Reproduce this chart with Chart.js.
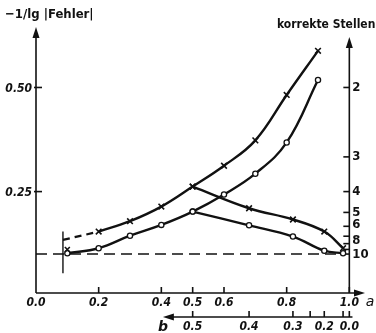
<!DOCTYPE html>
<html>
<head>
<meta charset="utf-8">
<script src="https://cdn.jsdelivr.net/npm/chart.js@4"></script>
<style>
  html, body { margin: 0; padding: 0; background: #fff; }
  #wrap { width: 376px; height: 333px; }
</style>
</head>
<body>
<div id="wrap"><canvas id="c" width="376" height="333"></canvas></div>
<script>
// Parameter a (bottom axis) for the rising curves
const aValues = [0.2, 0.3, 0.4, 0.5, 0.6, 0.7, 0.8, 0.9];
const crossRising = [0.154, 0.179, 0.214, 0.262, 0.312, 0.373, 0.482, 0.588];
const aCircle = [0.1, 0.2, 0.3, 0.4, 0.5, 0.6, 0.7, 0.8, 0.9];
const circleRising = [0.102, 0.114, 0.144, 0.170, 0.202, 0.243, 0.293, 0.368, 0.518];
// isolated cross at a = 0.1 and the dashed continuation towards the start line
const crossStart = { a: 0.1, v: 0.111 };
const dashedStart = [{ a: 0.086, v: 0.134 }, { a: 0.2, v: 0.154 }];
const startLine = { a: 0.086, from: 0.054, to: 0.154 };

// Parameter b (second bottom axis) for the falling curves
const bValues = [0.5, 0.4, 0.3, 0.2, 0.1];
const crossFalling = [0.262, 0.210, 0.183, 0.154, 0.114];
const circleFalling = [0.202, 0.169, 0.142, 0.108, 0.102];

// Axis ticks
const aTicks = [0.0, 0.2, 0.4, 0.5, 0.6, 0.8, 1.0];
const leftTicks = [0.25, 0.50];
const digitsTicks = [2, 3, 4, 5, 6, 7, 8, 9, 10];
const digitsLabels = [2, 3, 4, 5, 6, 8, 10];
const bTicks = [0.5, 0.4, 0.3, 0.25, 0.2, 0.1, 0.0];
const bLabels = [0.5, 0.4, 0.3, 0.2, 0.0];
const levelTen = 0.1;

// b scale is laid onto the a scale through a = 1 - 2 b^2
const aFromB = b => 1 - 2 * b * b;

const INK = '#111';
const numFont = "italic bold 12px 'DejaVu Sans Condensed', 'DejaVu Sans', sans-serif";
const rightFont = "bold 13px 'DejaVu Sans Condensed', 'DejaVu Sans', sans-serif";
const titleFont = "bold 12px 'DejaVu Sans Condensed', 'DejaVu Sans', sans-serif";
const leftTitleFont = "bold 13px 'DejaVu Sans Condensed', 'DejaVu Sans', sans-serif";

function arrow(ctx, x, y, dir) {
  ctx.save();
  ctx.translate(x, y);
  ctx.rotate(dir);
  ctx.beginPath();
  ctx.moveTo(0, 0);
  ctx.lineTo(-11, -3.5);
  ctx.lineTo(-11, 3.5);
  ctx.closePath();
  ctx.fillStyle = INK;
  ctx.fill();
  ctx.restore();
}

const axesPlugin = {
  id: 'axes',
  beforeDatasetsDraw(chart) {
    const { ctx, scales: { x, y } } = chart;
    const x0 = x.getPixelForValue(0);
    const x1 = x.getPixelForValue(1);
    const yBase = y.getPixelForValue(y.min);
    ctx.save();
    ctx.strokeStyle = INK;
    ctx.fillStyle = INK;
    ctx.lineWidth = 1.6;

    // left axis
    ctx.beginPath();
    ctx.moveTo(x0, yBase);
    ctx.lineTo(x0, 36);
    ctx.stroke();
    arrow(ctx, x0, 27, -Math.PI / 2);
    ctx.font = numFont;
    ctx.textAlign = 'right';
    ctx.textBaseline = 'middle';
    leftTicks.forEach(v => {
      const py = y.getPixelForValue(v);
      ctx.beginPath();
      ctx.moveTo(x0 - 2, py);
      ctx.lineTo(x0 + 6, py);
      ctx.stroke();
      ctx.fillText(v.toFixed(2), x0 - 4, py + 1);
    });

    // bottom a axis
    ctx.beginPath();
    ctx.moveTo(x0, yBase);
    ctx.lineTo(x.getPixelForValue(1.03), yBase);
    ctx.stroke();
    arrow(ctx, x.getPixelForValue(1.05), yBase, 0);
    ctx.textAlign = 'center';
    aTicks.forEach(v => {
      const px = x.getPixelForValue(v);
      if (v > 0) {
        ctx.beginPath();
        ctx.moveTo(px, yBase);
        ctx.lineTo(px, yBase - 6);
        ctx.stroke();
      }
      ctx.fillText(v.toFixed(1), px, yBase + 10);
    });
    ctx.font = "italic 14px 'DejaVu Sans', sans-serif";
    ctx.fillText('a', 370, yBase + 9);

    // right axis: correct digits
    ctx.beginPath();
    ctx.moveTo(x1, yBase);
    ctx.lineTo(x1, 46);
    ctx.stroke();
    arrow(ctx, x1, 37, -Math.PI / 2);
    digitsTicks.forEach(n => {
      const py = y.getPixelForValue(1 / n);
      ctx.beginPath();
      ctx.moveTo(x1 - 6, py);
      ctx.lineTo(x1, py);
      ctx.stroke();
    });
    ctx.font = rightFont;
    ctx.textAlign = 'left';
    const nudge = { 6: -2, 8: -3, 10: 1 };
    digitsLabels.forEach(n => {
      const py = y.getPixelForValue(1 / n) + (nudge[n] || 0);
      ctx.fillText(String(n), x1 + 3, py);
    });

    // second bottom axis for b
    const yb = 317;
    ctx.beginPath();
    ctx.moveTo(x.getPixelForValue(0.43), yb);
    ctx.lineTo(x.getPixelForValue(1.01), yb);
    ctx.stroke();
    arrow(ctx, x.getPixelForValue(0.405), yb, Math.PI);
    bTicks.forEach(b => {
      const px = x.getPixelForValue(aFromB(b));
      ctx.beginPath();
      ctx.moveTo(px, yb);
      ctx.lineTo(px, yb - 6);
      ctx.stroke();
    });
    ctx.font = numFont;
    ctx.textAlign = 'center';
    bLabels.forEach(b => {
      const px = x.getPixelForValue(aFromB(b));
      ctx.fillText(b.toFixed(1), px, yb + 10);
    });
    ctx.font = "italic bold 14px 'DejaVu Sans', sans-serif";
    ctx.fillText('b', x.getPixelForValue(0.405), yb + 10);

    // titles
    ctx.textAlign = 'left';
    ctx.font = leftTitleFont;
    ctx.fillText('\u22121/lg |Fehler|', 5, 15);
    ctx.font = titleFont;
    ctx.fillText('korrekte Stellen', 277, 25);
    ctx.restore();
  }
};

const crossStyle = {
  pointStyle: 'crossRot', pointRadius: 4, pointBorderWidth: 1.6,
  pointBorderColor: INK, pointBackgroundColor: INK
};
const circleStyle = {
  pointStyle: 'circle', pointRadius: 2.6, pointBorderWidth: 1.3,
  pointBorderColor: INK, pointBackgroundColor: '#fff'
};
const curve = {
  borderColor: INK, borderWidth: 2.4, tension: 0.4, fill: false
};

const datasets = [
  { // reference level: 10 correct digits
    data: [{ x: 0, y: levelTen }, { x: 0.975, y: levelTen }],
    borderColor: INK, borderWidth: 1.5, borderDash: [11, 6], pointRadius: 0
  },
  { // start marker line
    data: [{ x: startLine.a, y: startLine.from }, { x: startLine.a, y: startLine.to }],
    borderColor: INK, borderWidth: 1.4, pointRadius: 0
  },
  { // dashed continuation of the cross curve
    data: dashedStart.map(p => ({ x: p.a, y: p.v })),
    borderColor: INK, borderWidth: 2.2, borderDash: [7, 5], pointRadius: 0
  },
  Object.assign({
    data: bValues.map((b, i) => ({ x: aFromB(b), y: crossFalling[i] }))
  }, curve, crossStyle),
  Object.assign({
    data: bValues.map((b, i) => ({ x: aFromB(b), y: circleFalling[i] }))
  }, curve, circleStyle),
  Object.assign({
    data: aValues.map((a, i) => ({ x: a, y: crossRising[i] }))
  }, curve, crossStyle),
  Object.assign({
    data: [{ x: crossStart.a, y: crossStart.v }], showLine: false
  }, crossStyle, { pointRadius: 3.5 }),
  Object.assign({
    data: aCircle.map((a, i) => ({ x: a, y: circleRising[i] }))
  }, curve, circleStyle)
];

new Chart(document.getElementById('c'), {
  type: 'line',
  data: { datasets },
  options: {
    responsive: false,
    animation: false,
    layout: { padding: { left: 36, right: 11, top: 25, bottom: 40 } },
    plugins: { legend: { display: false }, tooltip: { enabled: false } },
    scales: {
      x: { type: 'linear', min: 0, max: 1.05, display: false },
      y: { type: 'linear', min: 0.0065, max: 0.65, display: false }
    }
  },
  plugins: [axesPlugin]
});
</script>
</body>
</html>
